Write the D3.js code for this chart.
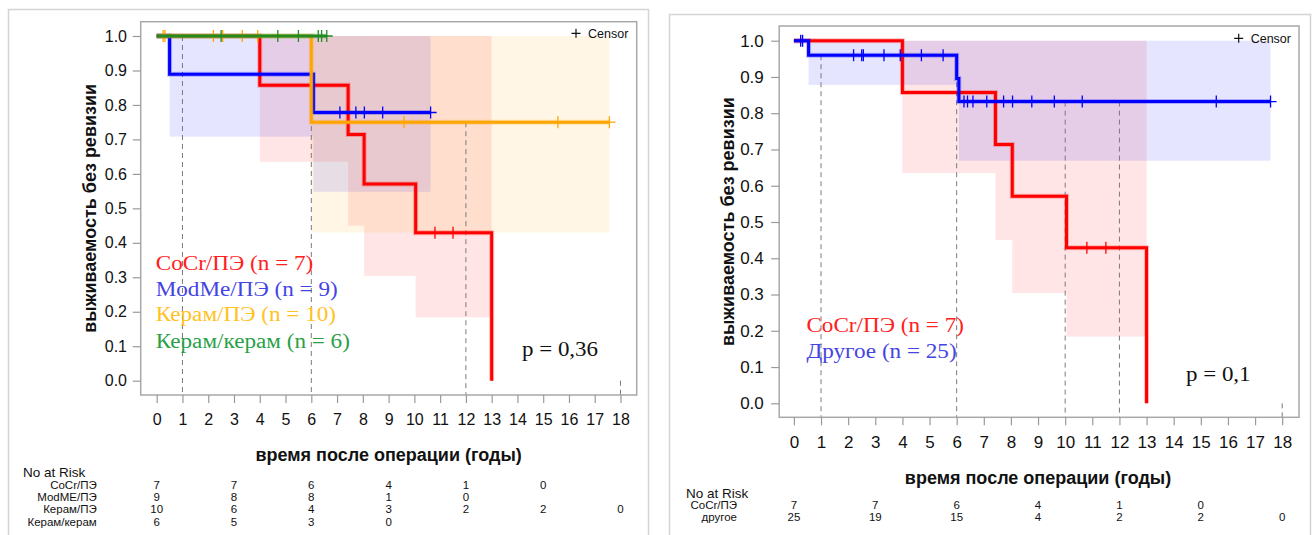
<!DOCTYPE html>
<html>
<head>
<meta charset="utf-8">
<script src="https://cdn.jsdelivr.net/npm/d3@7"></script>
<style>
  body { margin: 0; background: #fff; }
  svg text { font-family: "Liberation Sans", Arial, sans-serif; }
</style>
</head>
<body>
<svg id="km" width="1316" height="535"></svg>
<script>
// ---- data ----
const timeTicks = [0,1,2,3,4,5,6,7,8,9,10,11,12,13,14,15,16,17,18];
const survTicks = [0,0.1,0.2,0.3,0.4,0.5,0.6,0.7,0.8,0.9,1.0];
const riskTimes = [0,3,6,9,12,15,18];

// CoCr/ПЭ (same in both panels)
const cocrTime = [0, 4, 7.43, 8.05, 10.05, 13];
const cocrSurv = [1, 0.857, 0.714, 0.571, 0.429, 0];
const cocrCensor = [10.8, 11.5];
const cocrBandTime = [4, 7.43, 8.05, 10.05, 13];
const cocrBandLow = [0.635, 0.45, 0.304, 0.184];
const cocrBandHigh = [1, 1, 1, 1];

// ModMe/ПЭ
const modmeTime = [0, 0.5, 6.08];
const modmeSurv = [1, 0.889, 0.778];
const modmeCensor = [7.11, 7.73, 8.06, 8.77, 10.63];
const modmeBandTime = [0.5, 6.08, 10.63];
const modmeBandLow = [0.708, 0.548];
const modmeBandHigh = [1, 1];

// Керам/ПЭ
const keramPeTime = [0, 6];
const keramPeSurv = [1, 0.75];
const keramPeCensor = [0.25, 0.32, 2.2, 2.56, 3.32, 3.92, 9.6, 15.57, 17.57];
const keramPeBandTime = [6, 17.57];
const keramPeBandLow = [0.43];
const keramPeBandHigh = [1];

// Керам/керам
const keramKeramTime = [0];
const keramKeramSurv = [1];
const keramKeramCensor = [2.5, 4.7, 5.5, 6.27, 6.4, 6.6];

// Другое (n = 25)
const otherTime = [0, 0.54, 6.0, 6.08];
const otherSurv = [1, 0.96, 0.896, 0.832];
const otherCensor = [0.25, 0.32, 2.2, 2.5, 2.56, 3.32, 3.92, 4.7, 5.5, 6.27, 6.4, 6.6,
                     7.11, 7.73, 8.06, 8.77, 9.6, 10.63, 15.57, 17.57];
const otherBandTime = [0.54, 6.08, 17.57];
const otherBandLow = [0.878, 0.669];
const otherBandHigh = [1, 1];

// reference (dashed) lines
const leftRefTime = [1, 6, 12, 18];
const leftRefSurv = [1, 1, 0.75, 0];
const rightRefTime = [1, 6, 10, 12, 18];
const rightRefSurv = [0.96, 0.96, 0.832, 0.832, 0];

// number at risk
const leftRiskLabels = ["CoCr/ПЭ", "ModME/ПЭ", "Керам/ПЭ", "Керам/керам"];
const riskCocr = [7, 7, 6, 4, 1, 0];
const riskModme = [9, 8, 8, 1, 0];
const riskKeramPe = [10, 6, 4, 3, 2, 2, 0];
const riskKeramKeram = [6, 5, 3, 0];
const rightRiskLabels = ["CoCr/ПЭ", "другое"];
const riskOther = [25, 19, 15, 4, 2, 2, 0];

const leftLegend = ["CoCr/ПЭ (n = 7)", "ModMe/ПЭ (n = 9)", "Керам/ПЭ (n = 10)", "Керам/керам (n = 6)"];
const rightLegend = ["CoCr/ПЭ (n = 7)", "Другое (n = 25)"];

// ---- panels ----
const RED = "#ff0000", BLUE = "#0000ff", ORANGE = "#ffa500", GREEN = "#228b22";

const leftGroups = [
  {time: cocrTime, surv: cocrSurv, end: 13, censor: cocrCensor, bandTime: cocrBandTime, bandLow: cocrBandLow, bandHigh: cocrBandHigh, color: RED},
  {time: modmeTime, surv: modmeSurv, end: 10.63, censor: modmeCensor, bandTime: modmeBandTime, bandLow: modmeBandLow, bandHigh: modmeBandHigh, color: BLUE},
  {time: keramPeTime, surv: keramPeSurv, end: 17.57, censor: keramPeCensor, bandTime: keramPeBandTime, bandLow: keramPeBandLow, bandHigh: keramPeBandHigh, color: ORANGE},
  {time: keramKeramTime, surv: keramKeramSurv, end: 6.6, censor: keramKeramCensor, bandTime: [], bandLow: [], bandHigh: [], color: GREEN}
];
const rightGroups = [
  {time: cocrTime, surv: cocrSurv, end: 13, censor: cocrCensor, bandTime: cocrBandTime, bandLow: cocrBandLow, bandHigh: cocrBandHigh, color: RED},
  {time: otherTime, surv: otherSurv, end: 17.57, censor: otherCensor, bandTime: otherBandTime, bandLow: otherBandLow, bandHigh: otherBandHigh, color: BLUE}
];

const panels = [
  {
    frame: [8.5, 9.5, 648.5, 560], box: [140.7, 21.7, 636.7, 395],
    xr: [156.7, 620.5], yr: [380.7, 36], font: 16, xPad: 11, yPad: 5.7,
    groups: leftGroups, refTime: leftRefTime, refSurv: leftRefSurv,
    legend: leftLegend, legendColors: ["#ff2020", "#4444e4", "#ffc21e", "#2a9f48"],
    legendX: 155.7, legendY: [269.5, 295.8, 320.8, 347.5], legendFont: 20.5,
    pText: "p = 0,36", pX: 522, pY: 356,
    censorX: 576, censorY: 33.3,
    xLabelY: 455, yLabelX: 90,
    riskLabels: leftRiskLabels, risk: [riskCocr, riskModme, riskKeramPe, riskKeramKeram],
    riskTitle: [23, 472.2], riskLabelX: 96.7, riskY: [484.6, 496.9, 509.2, 522.3]
  },
  {
    frame: [669.5, 14.5, 1310.5, 560], box: [779.2, 26, 1299, 417.3],
    xr: [793.9, 1282.2], yr: [403.3, 40.7], font: 17, xPad: 10.4, yPad: 7.4,
    groups: rightGroups, refTime: rightRefTime, refSurv: rightRefSurv,
    legend: rightLegend, legendColors: ["#ff2020", "#4444e4"],
    legendX: 806.4, legendY: [331.8, 357.5], legendFont: 20.5,
    pText: "p = 0,1", pX: 1186, pY: 381,
    censorX: 1238.7, censorY: 38.3,
    xLabelY: 477.3, yLabelX: 728,
    riskLabels: rightRiskLabels, risk: [riskCocr, riskOther],
    riskTitle: [686, 492.8], riskLabelX: 737, riskY: [505.2, 517.4]
  }
];

const svg = d3.select("#km");

function survAt(g, t) {
  let s = g.surv[0];
  g.time.forEach((tt, i) => { if (tt <= t) s = g.surv[i]; });
  return s;
}

function drawPanel(p) {
  const x = d3.scaleLinear().domain([0, 18]).range(p.xr);
  const y = d3.scaleLinear().domain([0, 1]).range(p.yr);
  const [bx0, by0, bx1, by1] = p.box;

  // outer frame
  svg.append("rect")
    .attr("x", p.frame[0]).attr("y", p.frame[1])
    .attr("width", p.frame[2] - p.frame[0]).attr("height", p.frame[3] - p.frame[1])
    .attr("fill", "none").attr("stroke", "#d4d4d4").attr("stroke-width", 1.5);

  const g = svg.append("g");

  // confidence bands
  p.groups.forEach(grp => {
    g.append("g").selectAll("rect")
      .data(grp.bandLow)
      .enter().append("rect")
      .attr("x", (d, i) => x(grp.bandTime[i]))
      .attr("width", (d, i) => x(grp.bandTime[i + 1]) - x(grp.bandTime[i]))
      .attr("y", (d, i) => y(grp.bandHigh[i]))
      .attr("height", (d, i) => y(d) - y(grp.bandHigh[i]))
      .attr("fill", grp.color).attr("fill-opacity", 0.1);
  });

  // dashed reference lines
  g.selectAll(".ref").data(p.refTime)
    .enter().append("line")
    .attr("class", "ref")
    .attr("x1", d => x(d)).attr("x2", d => x(d))
    .attr("y1", (d, i) => y(p.refSurv[i])).attr("y2", by1)
    .attr("stroke", "#7a7a7a").attr("stroke-width", 1)
    .attr("stroke-dasharray", "5,4");

  // survival curves
  const line = d3.line().x(d => x(d[0])).y(d => y(d[1])).curve(d3.curveStepAfter);
  p.groups.forEach(grp => {
    const pts = grp.time.map((t, i) => [t, grp.surv[i]]);
    pts.push([grp.end, grp.surv[grp.surv.length - 1]]);
    g.append("path").attr("d", line(pts))
      .attr("fill", "none").attr("stroke", grp.color)
      .attr("stroke-opacity", 0.25).attr("stroke-width", 5);
    g.append("path").attr("d", line(pts))
      .attr("fill", "none").attr("stroke", grp.color).attr("stroke-width", 3);
    g.append("g").selectAll("path")
      .data(grp.censor)
      .enter().append("path")
      .attr("d", t => {
        const cx = x(t), cy = y(survAt(grp, t));
        return `M${cx - 6},${cy}H${cx + 6}M${cx},${cy - 6}V${cy + 6}`;
      })
      .attr("stroke", grp.color).attr("stroke-width", 1.3).attr("fill", "none");
  });

  // plot box
  svg.append("rect")
    .attr("x", bx0).attr("y", by0)
    .attr("width", bx1 - bx0).attr("height", by1 - by0)
    .attr("fill", "none").attr("stroke", "#a8a8a8").attr("stroke-width", 1.5);

  // axes
  const xAxis = svg.append("g")
    .attr("transform", `translate(0,${by1})`)
    .call(d3.axisBottom(x).tickValues(timeTicks).tickSize(8).tickPadding(p.xPad).tickFormat(d3.format("d")));
  const yAxis = svg.append("g")
    .attr("transform", `translate(${bx0},0)`)
    .call(d3.axisLeft(y).tickValues(survTicks).tickSize(8).tickPadding(p.yPad).tickFormat(d3.format(".1f")));
  [xAxis, yAxis].forEach(a => {
    a.select(".domain").remove();
    a.selectAll(".tick line").attr("stroke", "#9a9a9a").attr("stroke-width", 1.2);
    a.selectAll(".tick text").attr("fill", "#111")
      .style("font-size", p.font + "px").style("font-family", '"Liberation Sans", Arial, sans-serif');
  });

  // axis titles
  svg.append("text")
    .attr("x", x(9)).attr("y", p.xLabelY).attr("dy", "0.35em")
    .attr("text-anchor", "middle").attr("font-weight", "bold").attr("font-size", 18)
    .attr("fill", "#111").text("время после операции (годы)");
  svg.append("text")
    .attr("transform", `translate(${p.yLabelX},${(by0 + by1) / 2}) rotate(-90)`)
    .attr("dy", "0.35em").attr("text-anchor", "middle")
    .attr("font-weight", "bold").attr("font-size", 18)
    .attr("fill", "#111").text("выживаемость без ревизии");

  // censor legend
  const cx = p.censorX, cy = p.censorY;
  svg.append("path").attr("d", `M${cx - 4.5},${cy}H${cx + 4.5}M${cx},${cy - 4.5}V${cy + 4.5}`)
    .attr("stroke", "#111").attr("stroke-width", 1.2);
  svg.append("text").attr("x", cx + 12).attr("y", cy).attr("dy", "0.35em")
    .attr("font-size", 12.5).attr("fill", "#111").text("Censor");

  // group legend (serif, slightly stretched as in the picture)
  svg.append("g").selectAll("text")
    .data(p.legend)
    .enter().append("text")
    .attr("transform", (d, i) => `translate(${p.legendX},${p.legendY[i]}) scale(1.13,1)`)
    .style("font-family", '"Liberation Serif", "Times New Roman", serif')
    .attr("font-size", p.legendFont)
    .attr("fill", (d, i) => p.legendColors[i])
    .text(d => d);
  svg.append("text")
    .attr("transform", `translate(${p.pX},${p.pY}) scale(1.12,1)`)
    .style("font-family", '"Liberation Serif", "Times New Roman", serif')
    .attr("font-size", p.legendFont).attr("fill", "#111").text(p.pText);

  // number at risk table
  svg.append("text").attr("x", p.riskTitle[0]).attr("y", p.riskTitle[1]).attr("dy", "0.35em")
    .attr("font-size", 13.5).attr("fill", "#111").text("No at Risk");
  p.riskLabels.forEach((lab, r) => {
    svg.append("text").attr("x", p.riskLabelX).attr("y", p.riskY[r]).attr("dy", "0.35em")
      .attr("text-anchor", "end").attr("font-size", 11.5).attr("fill", "#111").text(lab);
    svg.append("g").selectAll("text")
      .data(p.risk[r])
      .enter().append("text")
      .attr("x", (d, i) => x(riskTimes[i]))
      .attr("y", p.riskY[r]).attr("dy", "0.35em")
      .attr("text-anchor", "middle").attr("font-size", 11.5).attr("fill", "#111")
      .text(d => d);
  });
}

panels.forEach(drawPanel);
</script>
</body>
</html>
